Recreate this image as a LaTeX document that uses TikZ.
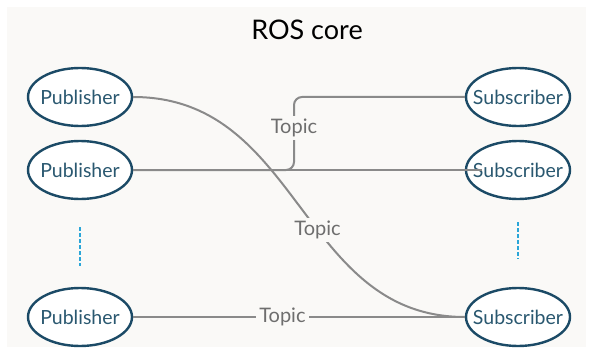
\documentclass[tikz,border=0pt]{standalone}
\usepackage{fontspec}
\setmainfont{Lato}
\usepackage{tikz}
\usetikzlibrary{arrows,shapes.geometric}
\definecolor{bgcol}{HTML}{FAF9F7}
\definecolor{nodeblue}{HTML}{1B4A66}
\definecolor{textblue}{HTML}{2A5870}
\definecolor{linegray}{HTML}{8A8A8A}
\definecolor{topicgray}{HTML}{6E6E6E}
\definecolor{dotblue}{HTML}{2AA6D8}
\newcommand\rolename[1]{\makebox[0pt]{#1}}

\begin{document}
\begin{tikzpicture}[>=latex,x=1pt,y=-1pt]
		\tikzset{
			role/.style={ellipse,draw=nodeblue,line width=2.4pt,fill=white,
				minimum width=104pt,minimum height=58pt,inner sep=0pt,
				text=textblue,font=\fontsize{19.5}{22}\selectfont},
			topic/.style={text=topicgray,inner sep=3pt,font=\fontsize{20}{22}\selectfont},
			conn/.style={draw=linegray,line width=2pt},
			vdots/.style={draw=dotblue,line width=2pt,dash pattern=on 4pt off 2pt}
		}
		\useasboundingbox (0,0) rectangle (592,353);
		\fill[bgcol] (7,7) rectangle (586,347);
		\node(core) at (307,30) {\fontsize{27}{30}\selectfont ROS core};
		% publishers and subscribers
		\node(pub1)[role] at (80,97) {\rolename{Publisher}};
		\node(pub2)[role] at (80,170) {\rolename{Publisher}};
		\node(pub3)[role] at (80,317) {\rolename{Publisher}};
		\node(sub1)[role] at (518,97) {\rolename{Subscriber}};
		\node(sub2)[role] at (518,170) {\rolename{Subscriber}};
		\node(sub3)[role] at (518,317) {\rolename{Subscriber}};
		\draw[vdots] ([yshift=-27pt]pub2.south) -- ([yshift=21pt]pub3.north);
		\draw[vdots] ([yshift=-22pt]sub2.south) -- ([yshift=28pt]sub3.north);
		% topics
		\node(topic1)[topic] at (294,128) {Topic};
		\draw[conn,rounded corners=8pt] (pub2.east) -| (topic1.south);
		\draw[conn,rounded corners=8pt] (topic1.north) |- (sub1.west);
		\draw[conn] (pub2.east) -- ([xshift=17pt]sub2.west);
		\draw[conn] (pub1.east) .. controls +(168,0) and +(-165,0) .. (sub3.west)
			node(topic2)[topic,fill=bgcol,pos=0.57] {Topic};
		\draw[conn] (pub3.east) -- (sub3.west)
			node(topic3)[topic,fill=bgcol,pos=0.45] {Topic};
\end{tikzpicture}
\end{document}
